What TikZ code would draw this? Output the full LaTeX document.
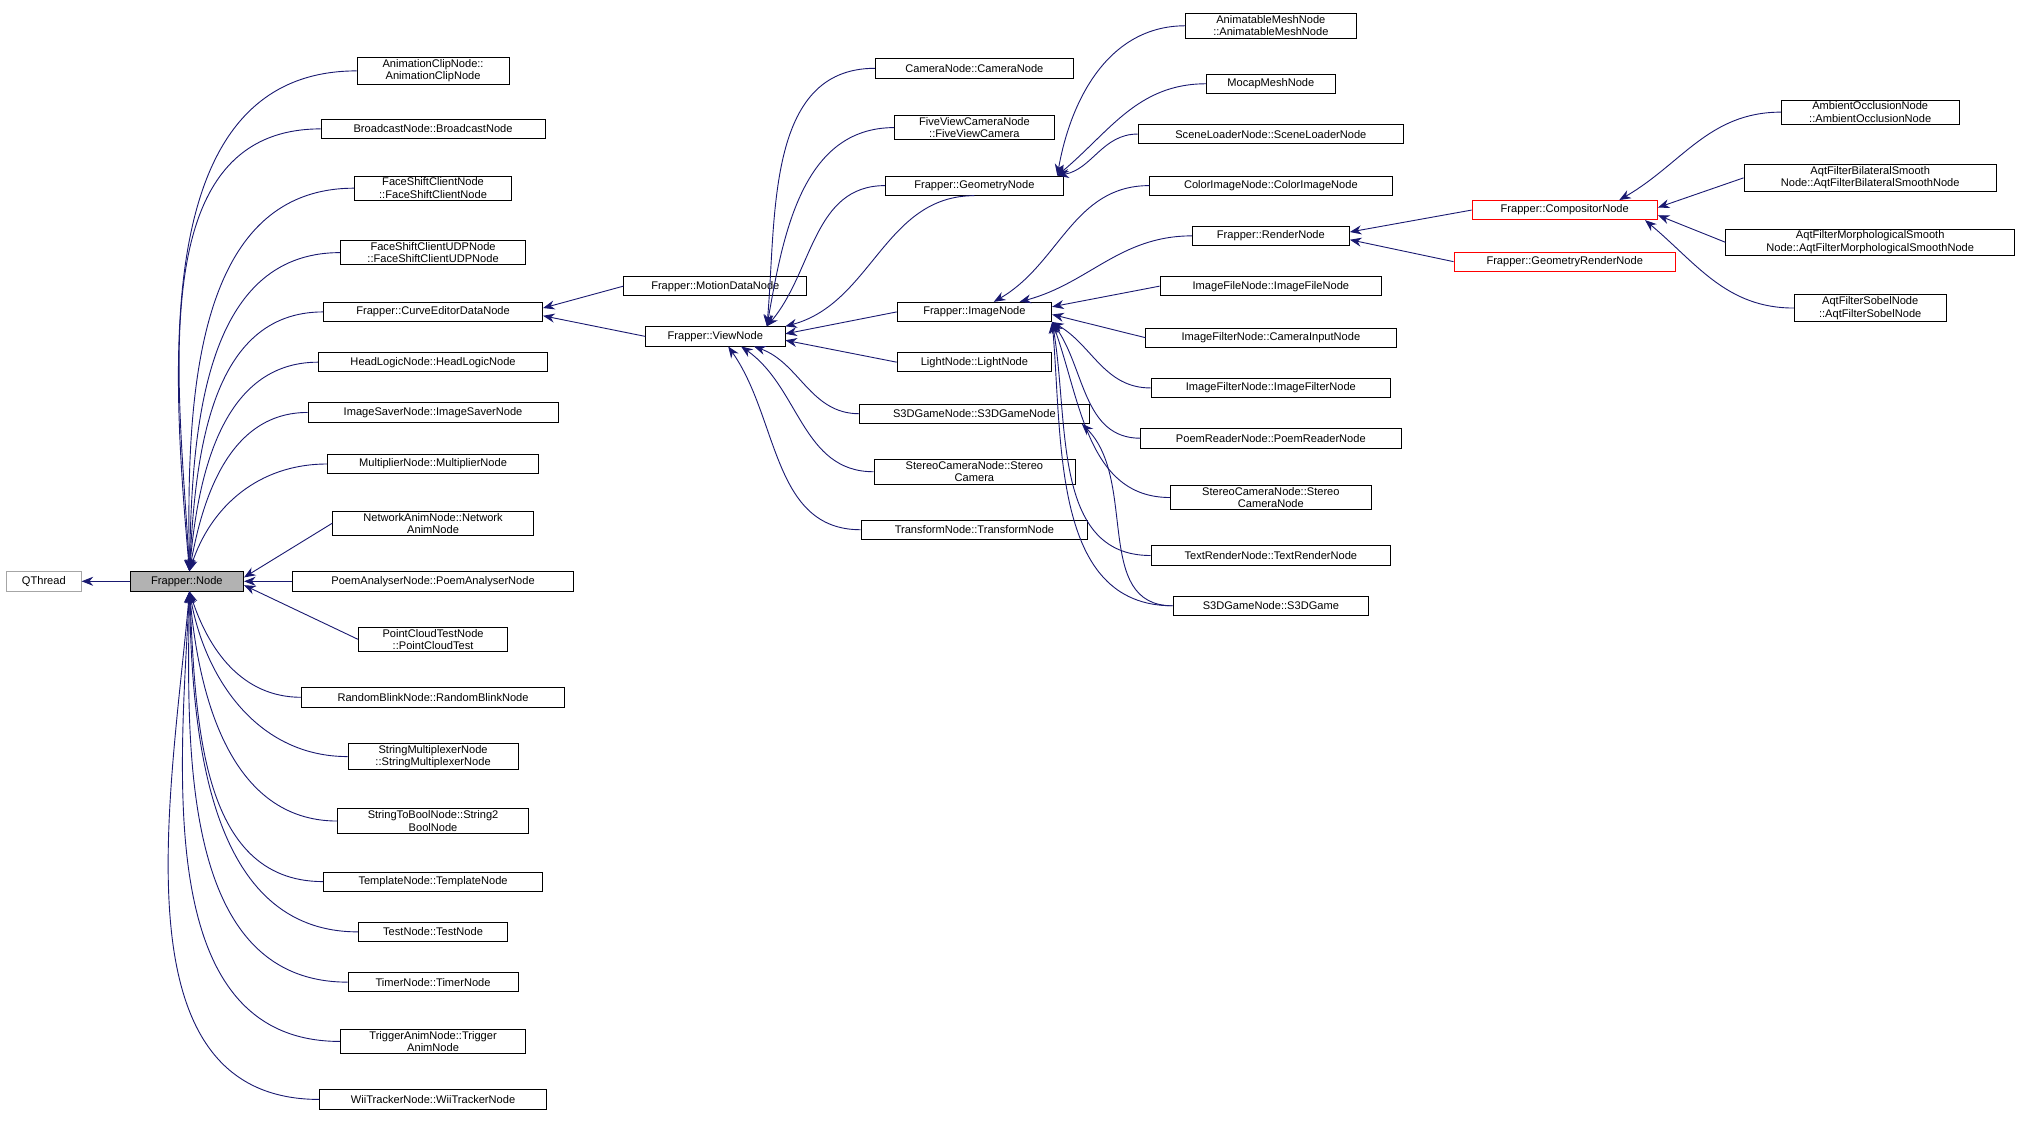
\documentclass[tikz,border=0pt]{standalone}
\usepackage{fontspec}
\setmainfont{Liberation Sans}
\usetikzlibrary{arrows.meta}
\definecolor{edge}{RGB}{25,25,112}
\tikzset{
 x=1pt,y=-1pt,
 nd/.style={draw=black,fill=white,font=\fontsize{8.6}{9.6}\selectfont,align=center,inner sep=1.5pt,minimum height=15pt,line width=0.6pt},
 rd/.style={nd,draw=red},
 e/.style={draw=edge,line width=0.7pt,{Stealth[length=9pt,width=7pt]}-},
}
\begin{document}
\begin{tikzpicture}
\useasboundingbox (0,0) rectangle (1568,869);
\node[nd,draw=gray!70,minimum width=58pt] (qt) at (34,451) {QThread};
\node[nd,fill=gray!60,minimum width=88pt] (fn) at (145,451) {Frapper::Node};
% left column
\node[nd,minimum width=118pt] (a1) at (336,55) {AnimationClipNode::\\AnimationClipNode};
\node[nd,minimum width=174pt] (a2) at (336,100) {BroadcastNode::BroadcastNode};
\node[nd,minimum width=122pt] (a3) at (336,146) {FaceShiftClientNode\\::FaceShiftClientNode};
\node[nd,minimum width=144pt] (a4) at (336,196) {FaceShiftClientUDPNode\\::FaceShiftClientUDPNode};
\node[nd,minimum width=170pt] (ce) at (336,242) {Frapper::CurveEditorDataNode};
\node[nd,minimum width=178pt] (a6) at (336,281) {HeadLogicNode::HeadLogicNode};
\node[nd,minimum width=194pt] (a7) at (336,320) {ImageSaverNode::ImageSaverNode};
\node[nd,minimum width=164pt] (a8) at (336,360) {MultiplierNode::MultiplierNode};
\node[nd,minimum width=156pt] (a9) at (336,406) {NetworkAnimNode::Network\\AnimNode};
\node[nd,minimum width=218pt] (a10) at (336,451) {PoemAnalyserNode::PoemAnalyserNode};
\node[nd,minimum width=116pt] (a11) at (336,496) {PointCloudTestNode\\::PointCloudTest};
\node[nd,minimum width=204pt] (a12) at (336,541) {RandomBlinkNode::RandomBlinkNode};
\node[nd,minimum width=132pt] (a13) at (336,587) {StringMultiplexerNode\\::StringMultiplexerNode};
\node[nd,minimum width=148pt] (a14) at (336,637) {StringToBoolNode::String2\\BoolNode};
\node[nd,minimum width=170pt] (a15) at (336,684) {TemplateNode::TemplateNode};
\node[nd,minimum width=116pt] (a16) at (336,723) {TestNode::TestNode};
\node[nd,minimum width=132pt] (a17) at (336,762) {TimerNode::TimerNode};
\node[nd,minimum width=144pt] (a18) at (336,808) {TriggerAnimNode::Trigger\\AnimNode};
\node[nd,minimum width=176pt] (a19) at (336,853) {WiiTrackerNode::WiiTrackerNode};
% column 2
\node[nd,minimum width=142pt] (md) at (555,222) {Frapper::MotionDataNode};
\node[nd,minimum width=108pt] (vn) at (555,261) {Frapper::ViewNode};
% column 3
\node[nd,minimum width=154pt] (c1) at (756,53) {CameraNode::CameraNode};
\node[nd,minimum width=124pt] (c2) at (756,99) {FiveViewCameraNode\\::FiveViewCamera};
\node[nd,minimum width=138pt] (gn) at (756,144) {Frapper::GeometryNode};
\node[nd,minimum width=120pt] (in) at (756,242) {Frapper::ImageNode};
\node[nd,minimum width=120pt] (c5) at (756,281) {LightNode::LightNode};
\node[nd,minimum width=178pt] (sg) at (756,321) {S3DGameNode::S3DGameNode};
\node[nd,minimum width=156pt] (c7) at (756,366) {StereoCameraNode::Stereo\\Camera};
\node[nd,minimum width=176pt] (c8) at (756,411) {TransformNode::TransformNode};
% column 4
\node[nd,minimum width=132pt] (d1) at (986,20) {AnimatableMeshNode\\::AnimatableMeshNode};
\node[nd,minimum width=100pt] (d2) at (986,65) {MocapMeshNode};
\node[nd,minimum width=206pt] (d3) at (986,104) {SceneLoaderNode::SceneLoaderNode};
\node[nd,minimum width=188pt] (d4) at (986,144) {ColorImageNode::ColorImageNode};
\node[nd,minimum width=122pt] (rn) at (986,183) {Frapper::RenderNode};
\node[nd,minimum width=172pt] (d6) at (986,222) {ImageFileNode::ImageFileNode};
\node[nd,minimum width=194pt] (d7) at (986,262) {ImageFilterNode::CameraInputNode};
\node[nd,minimum width=186pt] (d8) at (986,301) {ImageFilterNode::ImageFilterNode};
\node[nd,minimum width=202pt] (d9) at (986,340) {PoemReaderNode::PoemReaderNode};
\node[nd,minimum width=156pt] (d10) at (986,386) {StereoCameraNode::Stereo\\CameraNode};
\node[nd,minimum width=186pt] (d11) at (986,431) {TextRenderNode::TextRenderNode};
\node[nd,minimum width=152pt] (d12) at (986,470) {S3DGameNode::S3DGame};
% column 5
\node[rd,minimum width=144pt] (cn) at (1214,163) {Frapper::CompositorNode};
\node[rd,minimum width=172pt] (gr) at (1214,203) {Frapper::GeometryRenderNode};
% column 6
\node[nd,minimum width=138pt] (f1) at (1451,87) {AmbientOcclusionNode\\::AmbientOcclusionNode};
\node[nd,minimum width=196pt] (f2) at (1451,138) {AqtFilterBilateralSmooth\\Node::AqtFilterBilateralSmoothNode};
\node[nd,minimum width=224pt] (f3) at (1451,188) {AqtFilterMorphologicalSmooth\\Node::AqtFilterMorphologicalSmoothNode};
\node[nd,minimum width=118pt] (f4) at (1451,239) {AqtFilterSobelNode\\::AqtFilterSobelNode};
% edges
\draw[e] (qt.east) -- (fn.west);
\foreach \c/\i in {a1/95,a2/93,a3/91,a4/89,ce/87,a6/85,a7/80,a8/72}
  \draw[e] ([xshift=2pt]fn.north) to[out=\i,in=180] (\c.west);
\draw[e] ([yshift=3pt]fn.east) -- (a9.west);
\draw[e] (fn.east) -- (a10.west);
\draw[e] ([yshift=-3pt]fn.east) -- (a11.west);
\foreach \c/\i in {a12/-72,a13/-80,a14/-85,a15/-87,a16/-89,a17/-91,a18/-93,a19/-95}
  \draw[e] ([xshift=2pt]fn.south) to[out=\i,in=180] (\c.west);
\draw[e] ([yshift=3pt]ce.east) -- (md.west);
\draw[e] ([yshift=-3pt]ce.east) -- (vn.west);
\foreach \c/\i in {c1/85,c2/80,gn/50}
  \draw[e] ([xshift=40pt]vn.north) to[out=\i,in=180] (\c.west);
\draw[e] (vn.north east) to[out=15,in=180] (gn.south) ;
\draw[e] ([yshift=2pt]vn.east) -- (in.west);
\draw[e] ([yshift=-3pt]vn.east) -- (c5.west);
\draw[e] ([xshift=30pt]vn.south) to[out=-20,in=180] (sg.west);
\draw[e] ([xshift=20pt]vn.south) to[out=-35,in=180] (c7.west);
\draw[e] ([xshift=10pt]vn.south) to[out=-55,in=180] (c8.west);
\foreach \c/\i in {d1/80,d2/40,d3/10}
  \draw[e] ([xshift=-5pt]gn.north east) to[out=\i,in=180] (\c.west);
\draw[e] ([xshift=15pt]in.north) to[out=30,in=180] (d4.west);
\draw[e] ([xshift=35pt]in.north) to[out=15,in=180] (rn.west);
\draw[e] ([yshift=4pt]in.east) -- (d6.west);
\draw[e] ([yshift=-2pt]in.east) -- (d7.west);
\foreach \c/\i in {d8/-30,d9/-55,d10/-70,d11/-80,d12/-85}
  \draw[e] (in.south east) to[out=\i,in=180] (\c.west);
\draw[e] ([xshift=-6pt]sg.south east) to[out=-45,in=180] (d12.west);
\draw[e] ([yshift=3pt]rn.east) -- (cn.west);
\draw[e] ([yshift=-3pt]rn.east) -- (gr.west);
\draw[e] ([xshift=-30pt]cn.north east) to[out=30,in=180] (f1.west);
\draw[e] ([yshift=2pt]cn.east) -- (f2.west);
\draw[e] ([yshift=-4pt]cn.east) -- (f3.west);
\draw[e] ([xshift=-10pt]cn.south east) to[out=-40,in=180] (f4.west);
\end{tikzpicture}
\end{document}
